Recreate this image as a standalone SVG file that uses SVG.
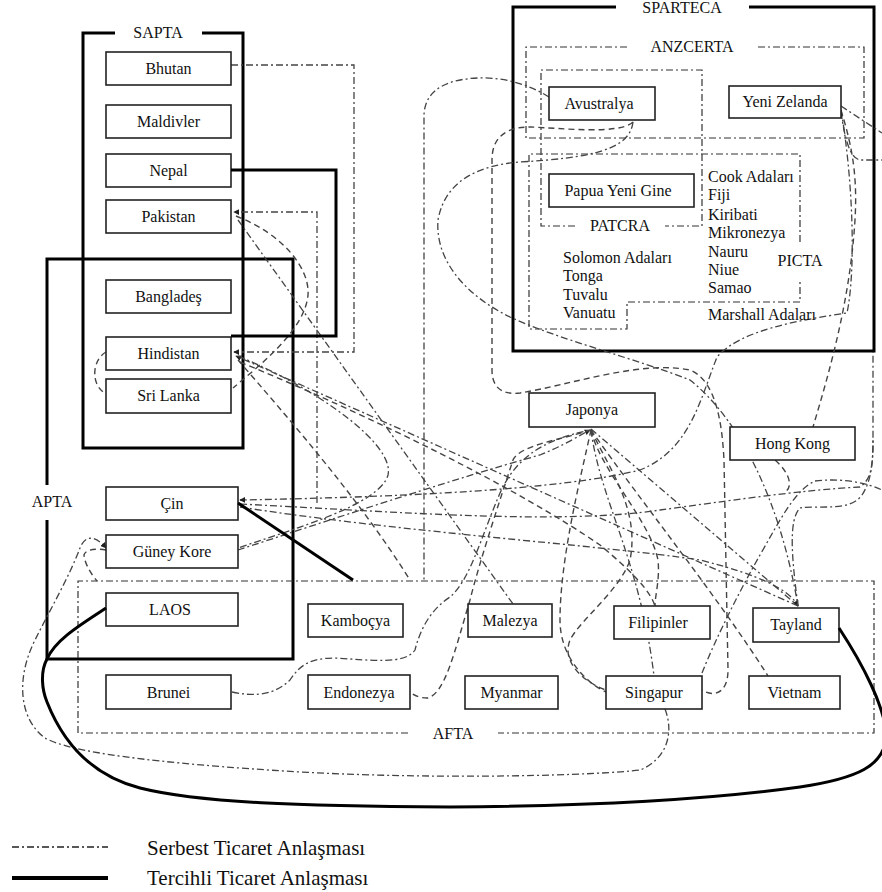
<svg xmlns="http://www.w3.org/2000/svg" width="882" height="892" viewBox="0 0 882 892">
<defs>
<marker id="ar" viewBox="0 0 8 8" refX="7" refY="4" markerWidth="6" markerHeight="6" orient="auto" markerUnits="userSpaceOnUse">
<path d="M0,0 L8,4 L0,8 z" fill="#222"/>
</marker>
</defs>
<style>
.frame{fill:none;stroke:#000;stroke-width:3}
.grp{fill:none;stroke:#333;stroke-width:1.2;stroke-dasharray:7 3 2 3}
.dd{fill:none;stroke:#444;stroke-width:1.3;stroke-dasharray:7 3 2 3}
.ds{fill:none;stroke:#444;stroke-width:1.4;stroke-dasharray:6 4}
.thick{fill:none;stroke:#000;stroke-width:3}
.box{fill:#fff;stroke:#222;stroke-width:1.6}
text{font-family:"Liberation Serif","Times New Roman",serif;font-size:16px;fill:#111}
.c{text-anchor:middle}
.leg{font-size:21px}
</style>
<rect width="882" height="892" fill="#fff"/>

<g id="frames">
<path class="frame" d="M115,33 H83 V448 H243 V33 H202"/>
<path class="frame" d="M47,485 V259 H293 V659 H47 V520"/>
<path class="frame" d="M616,7 H513 V351 H874 V7 H749"/>
<path class="grp" d="M627,47 H526 V138 H864 V47 H758"/>
<path class="grp" d="M575,226 H541 V70 H702 V226 H665"/>
<path class="grp" d="M800,242 V154 H529 V329 H627 V302 H800 V280"/>
<path class="grp" d="M408,733 H78 V581 H874 V733 H498"/>
<text class="c" x="158" y="38">SAPTA</text>
<text class="c" x="52" y="507">APTA</text>
<text class="c" x="453" y="739">AFTA</text>
<text class="c" x="682" y="13">SPARTECA</text>
<text class="c" x="692" y="52">ANZCERTA</text>
<text class="c" x="620" y="231">PATCRA</text>
<text class="c" x="800" y="266">PICTA</text>
</g>

<g id="connectors">
<path class="dd" d="M231,65 H354 V352 H234" marker-end="url(#ar)"/>
<path class="dd" d="M317,503 V212 H234" marker-end="url(#ar)"/>
<path class="ds" d="M236,216 C285,235 310,270 308,295 C305,330 260,365 233,388"/>
<path class="dd" d="M238,220 L513,604"/>
<path class="ds" d="M106,352 C92,360 90,385 106,394"/>
<path class="dd" d="M798,606 L236,356" marker-end="url(#ar)"/>
<path class="ds" d="M238,360 C290,420 360,500 410,580"/>
<path class="dd" d="M238,356 C320,390 395,445 388,475 C380,505 290,530 238,548"/>
<path class="ds" d="M240,362 C380,420 520,490 600,545 C630,570 650,590 655,606"/>
<path class="dd" d="M841,110 C853,180 856,270 847,313 C800,320 740,330 717,357 C700,400 690,450 640,470 C560,490 400,497 240,500" marker-end="url(#ar)"/>
<path class="dd" d="M240,504 C400,512 560,525 660,510 C720,502 800,490 860,487 C870,480 873,470 873,440 V352"/>
<path class="dd" d="M240,507 C400,532 600,545 700,560 C760,575 790,590 798,606" marker-end="url(#ar)"/>
<path class="dd" d="M238,550 C330,520 450,480 540,455 C565,445 580,435 590,430" marker-end="url(#ar)"/>
<path class="dd" d="M591,429 L798,606"/>
<path class="ds" d="M591,430 C640,500 720,600 768,676"/>
<path class="ds" d="M591,430 C600,470 650,520 658,560 C660,580 655,595 655,606"/>
<path class="ds" d="M591,430 C580,480 560,560 560,620 C560,660 590,685 606,692"/>
<path class="dd" d="M591,430 C600,500 640,560 654,676"/>
<path class="ds" d="M591,430 C560,440 520,445 513,460 C500,500 480,560 470,600 C455,650 445,695 427,698 C418,698 412,694 410,692"/>
<path class="dd" d="M232,692 C255,697 275,695 290,680 C300,665 310,658 335,658 C370,660 405,665 415,650 C420,630 430,610 450,597 C470,580 480,540 500,493 C515,460 540,440 591,430"/>
<path class="ds" d="M591,430 C610,470 640,510 630,560 C620,590 580,620 570,640 C560,665 590,685 606,690"/>
<path class="ds" d="M633,122 C620,135 560,128 530,127 C505,127 492,138 492,160 V370 C492,390 505,395 520,393 C570,385 640,360 690,370 C715,380 722,420 724,460 L728,670 C728,695 712,697 702,690"/>
<path class="dd" d="M549,97 C530,85 505,77 478,78 C450,79 425,88 424,115 V580"/>
<path class="dd" d="M633,122 C630,150 590,158 520,162 C480,165 445,180 438,220 C435,260 465,295 510,317 C560,340 640,360 690,380 C740,420 780,500 798,606"/>
<path class="ds" d="M841,110 C850,140 858,170 855,220 C850,300 830,370 813,427"/>
<path class="dd" d="M841,106 L882,133"/>
<path class="dd" d="M841,112 C845,140 850,158 860,160 L882,160"/>
<path class="dd" d="M702,673 C715,640 740,590 760,555 C780,520 795,490 815,481 C840,478 865,482 882,490"/>
<path class="dd" d="M798,606 C792,560 788,520 800,508 C820,505 850,512 862,495 C872,480 873,460 873,440"/>
<path class="ds" d="M775,460 C792,475 792,488 785,492"/>
<path class="dd" d="M665,709 C675,735 665,760 640,770 C600,775 450,780 300,772 C150,763 70,752 45,738 C20,720 15,680 35,640 C50,610 70,575 80,548 C85,535 95,535 106,548" marker-end="url(#ar)"/>
<path class="ds" d="M106,550 C95,548 85,550 84,555 C85,565 92,575 97,581"/>
</g>

<g id="n-bhutan"><rect class="box" x="106" y="52" width="125" height="33"/><text class="c" x="168.5" y="74">Bhutan</text></g>
<g id="n-maldivler"><rect class="box" x="106" y="105" width="125" height="33"/><text class="c" x="168.5" y="127">Maldivler</text></g>
<g id="n-nepal"><rect class="box" x="106" y="154" width="125" height="33"/><text class="c" x="168.5" y="176">Nepal</text></g>
<g id="n-pakistan"><rect class="box" x="106" y="200" width="125" height="33"/><text class="c" x="168.5" y="222">Pakistan</text></g>
<g id="n-banglades"><rect class="box" x="106" y="280" width="125" height="33"/><text class="c" x="168.5" y="302">Bangladeş</text></g>
<g id="n-hindistan"><rect class="box" x="106" y="337" width="125" height="33"/><text class="c" x="168.5" y="359">Hindistan</text></g>
<g id="n-srilanka"><rect class="box" x="106" y="379" width="125" height="34"/><text class="c" x="168.5" y="401">Sri Lanka</text></g>
<g id="n-cin"><rect class="box" x="106" y="487" width="132" height="33"/><text class="c" x="172" y="509">Çin</text></g>
<g id="n-guneykore"><rect class="box" x="106" y="535" width="132" height="33"/><text class="c" x="172" y="557">Güney Kore</text></g>
<g id="n-laos"><rect class="box" x="106" y="593" width="132" height="33"/><text class="c" x="170" y="615">LAOS</text></g>
<g id="n-kambocya"><rect class="box" x="308" y="604" width="95" height="33"/><text class="c" x="355.5" y="626">Kamboçya</text></g>
<g id="n-brunei"><rect class="box" x="106" y="675" width="125" height="34"/><text class="c" x="168.5" y="698">Brunei</text></g>
<g id="n-endonezya"><rect class="box" x="308" y="675" width="102" height="34"/><text class="c" x="359" y="698">Endonezya</text></g>
<g id="n-malezya"><rect class="box" x="468" y="604" width="84" height="33"/><text class="c" x="510" y="626">Malezya</text></g>
<g id="n-myanmar"><rect class="box" x="465" y="676" width="93" height="33"/><text class="c" x="511.5" y="698">Myanmar</text></g>
<g id="n-filipinler"><rect class="box" x="614" y="606" width="96" height="33"/><text class="c" x="658" y="628">Filipinler</text></g>
<g id="n-singapur"><rect class="box" x="606" y="676" width="96" height="33"/><text class="c" x="654" y="698">Singapur</text></g>
<g id="n-tayland"><rect class="box" x="753" y="608" width="86" height="34"/><text class="c" x="796" y="630">Tayland</text></g>
<g id="n-vietnam"><rect class="box" x="749" y="676" width="91" height="33"/><text class="c" x="794.5" y="698">Vietnam</text></g>
<g id="n-japonya"><rect class="box" x="529" y="393" width="126" height="34"/><text class="c" x="592" y="415">Japonya</text></g>
<g id="n-hongkong"><rect class="box" x="730" y="427" width="125" height="33"/><text class="c" x="792.5" y="449">Hong Kong</text></g>
<g id="n-avustralya"><rect class="box" x="549" y="87" width="106" height="33"/><text class="c" x="599" y="109">Avustralya</text></g>
<g id="n-yenizelanda"><rect class="box" x="729" y="86" width="112" height="32"/><text class="c" x="785" y="107">Yeni Zelanda</text></g>
<g id="n-papua"><rect class="box" x="549" y="174" width="145" height="33"/><text class="c" x="618" y="196">Papua Yeni Gine</text></g>

<g id="pacific-list">
<text x="708" y="182">Cook Adaları</text>
<text x="708" y="200">Fiji</text>
<text x="708" y="220">Kiribati</text>
<text x="708" y="238">Mikronezya</text>
<text x="708" y="257">Nauru</text>
<text x="708" y="275">Niue</text>
<text x="708" y="293">Samao</text>
<text x="708" y="320">Marshall Adaları</text>
<text x="563" y="263">Solomon Adaları</text>
<text x="563" y="281">Tonga</text>
<text x="563" y="300">Tuvalu</text>
<text x="563" y="318">Vanuatu</text>
</g>

<g id="preferential">
<path class="thick" d="M231,170 H336 V336 H231"/>
<path class="thick" d="M238,503 L353,580"/>
<path class="thick" d="M106,608 C80,625 55,640 47,659 C40,672 42,690 47,702 C62,740 90,775 140,788 C200,803 300,806 450,807 C600,806 720,798 800,787 C860,778 882,765 886,740 C888,710 860,660 839,628"/>
</g>

<g id="legend">
<path d="M12,847 H108" fill="none" stroke="#222" stroke-width="1.3" stroke-dasharray="7 3 2 3"/>
<path d="M12,878 H108" fill="none" stroke="#000" stroke-width="4"/>
<text class="leg" x="147" y="855">Serbest Ticaret Anlaşması</text>
<text class="leg" x="147" y="885">Tercihli Ticaret Anlaşması</text>
</g>
</svg>
